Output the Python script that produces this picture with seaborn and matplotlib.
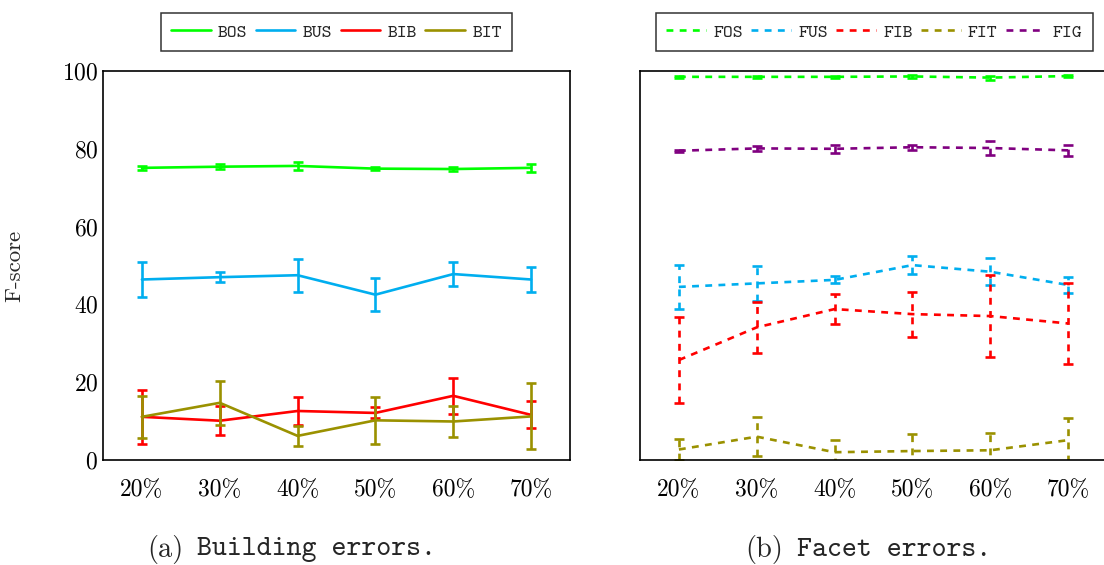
"""Error rate F-scores for building and facet errors at different training ratios"""
# %% Imports
import pandas as pd
import seaborn as sns
from matplotlib import pyplot as plt
from matplotlib.lines import Line2D

# %% Data
RATIOS = [20, 30, 40, 50, 60, 70]
RATIO_LABELS = ["20%", "30%", "40%", "50%", "60%", "70%"]
Y_TICKS = [0, 20, 40, 60, 80, 100]

BUILDING_SERIES = ["BOS", "BUS", "BIB", "BIT"]
BOS = [75.1, 75.4, 75.6, 74.9, 74.8, 75.1]
BOS_ERR = [0.5, 0.7, 1.0, 0.3, 0.5, 1.0]
BUS = [46.4, 47.0, 47.5, 42.5, 47.8, 46.4]
BUS_ERR = [4.4, 1.3, 4.2, 4.3, 3.1, 3.2]
BIB = [11.1, 10.1, 12.6, 12.1, 16.5, 11.6]
BIB_ERR = [7.0, 3.8, 3.7, 1.4, 4.7, 3.5]
BIT = [11.1, 14.7, 6.2, 10.2, 9.9, 11.2]
BIT_ERR = [5.4, 5.6, 2.6, 6.0, 3.9, 8.5]

FACET_SERIES = ["FOS", "FUS", "FIB", "FIT", "FIG"]
FOS = [98.5, 98.5, 98.5, 98.6, 98.3, 98.7]
FOS_ERR = [0.3, 0.3, 0.3, 0.3, 0.5, 0.2]
FUS = [44.5, 45.4, 46.3, 50.1, 48.4, 45.0]
FUS_ERR = [5.6, 4.5, 0.9, 2.4, 3.4, 2.0]
FIB = [25.7, 34.1, 38.8, 37.5, 37.0, 35.1]
FIB_ERR = [11.0, 6.5, 3.8, 5.8, 10.6, 10.5]
FIT = [2.7, 6.0, 2.0, 2.3, 2.5, 5.1]
FIT_ERR = [2.6, 5.1, 3.2, 4.4, 4.5, 5.6]
FIG = [79.5, 80.1, 80.0, 80.4, 80.2, 79.6]
FIG_ERR = [0.3, 0.6, 1.0, 0.6, 1.9, 1.4]

COLOURS = {
    "BOS": "#00ff00", "BUS": "#00aeef", "BIB": "#ff0000", "BIT": "#9a9100",
    "FOS": "#00ff00", "FUS": "#00aeef", "FIB": "#ff0000", "FIT": "#9a9100", "FIG": "#800080",
}

# %% Global style
W, H = 1104, 565
LW = 1.9
sns.set_style("white")
plt.rcParams["font.family"] = ["cmr10", "DejaVu Serif"]
plt.rcParams["axes.formatter.use_mathtext"] = True
plt.rcParams["lines.dashed_pattern"] = [2.6, 2.4]


# %% Functions
def build_df(names, values, errors):
    rows = []
    for name, vals, errs in zip(names, values, errors):
        for r, v, e in zip(RATIOS, vals, errs):
            rows.append({"series": name, "ratio": r, "score": v, "err": e})
    return pd.DataFrame(rows)


def add_axes(fig, left_px):
    return fig.add_axes([left_px / W, (H - 460) / H, 467 / W, 389 / H])


def draw_panel(ax, df, names, dashed, show_labels):
    ls = "--" if dashed else "-"
    for name in names:
        sub = df[df.series == name]
        sns.lineplot(data=sub, x="ratio", y="score", color=COLOURS[name], linewidth=LW,
                     linestyle=ls, ax=ax, legend=False, errorbar=None)
        _, caps, bars = ax.errorbar(sub.ratio, sub.score, yerr=sub.err, fmt="none", ecolor=COLOURS[name],
                                    elinewidth=LW, capsize=3.3, capthick=LW)
        if dashed:
            bars[0].set_linestyle("--")
    ax.set_xlim(15, 75)
    ax.set_ylim(0, 100)
    ax.set_xticks(RATIOS)
    ax.set_xticklabels(RATIO_LABELS)
    ax.set_yticks(Y_TICKS)
    ax.set_xlabel("")
    if show_labels:
        ax.set_ylabel("F-score", fontsize=16.5, labelpad=27)
        ax.tick_params(axis="y", direction="in", length=7)
    else:
        ax.set_ylabel("")
        ax.set_yticklabels([])
        ax.tick_params(axis="y", direction="inout", length=14)
    ax.tick_params(axis="x", direction="out", length=8, pad=6)
    ax.tick_params(colors="#999999", labelcolor="black", labelsize=17, width=1.1)
    for spine in ax.spines.values():
        spine.set_color("black")
        spine.set_linewidth(1.2)


def add_legend(fig, names, dashed, centre_px):
    ls = "--" if dashed else "-"
    handles = [Line2D([], [], color=COLOURS[n], linewidth=LW, linestyle=ls) for n in names]
    leg = fig.legend(handles, names, loc="center", bbox_to_anchor=(centre_px / W, 1 - 32 / H), ncol=len(names),
                     prop={"family": "cmtt10", "size": 13.5}, frameon=True, fancybox=False, edgecolor="black",
                     handlelength=2.1, handletextpad=0.4, columnspacing=0.45, borderpad=0.55)
    leg.get_frame().set_linewidth(1.1)


# %% Plotting
building_df = build_df(BUILDING_SERIES, [BOS, BUS, BIB, BIT], [BOS_ERR, BUS_ERR, BIB_ERR, BIT_ERR])
facet_df = build_df(FACET_SERIES, [FOS, FUS, FIB, FIT, FIG], [FOS_ERR, FUS_ERR, FIB_ERR, FIT_ERR, FIG_ERR])

fig = plt.figure(figsize=(W / 100, H / 100), dpi=100)
ax1 = add_axes(fig, 103)
ax2 = add_axes(fig, 640)
draw_panel(ax1, building_df, BUILDING_SERIES, dashed=False, show_labels=True)
draw_panel(ax2, facet_df, FACET_SERIES, dashed=True, show_labels=False)
ax2.spines["right"].set_visible(False)  # panel is cut off at the image edge
add_legend(fig, BUILDING_SERIES, False, 336.5)
add_legend(fig, FACET_SERIES, True, 874.5)

# captions
cap_y = 1 - 550 / H
fig.text(147 / W, cap_y, "(a)", fontsize=20.5, family="cmr10", va="center")
fig.text(197 / W, cap_y, "Building errors.", fontsize=20.5, family="cmtt10", va="center")
fig.text(745 / W, cap_y, "(b)", fontsize=20.5, family="cmr10", va="center")
fig.text(797 / W, cap_y, "Facet errors.", fontsize=20.5, family="cmtt10", va="center")

fig.savefig("out.png", dpi=100)
